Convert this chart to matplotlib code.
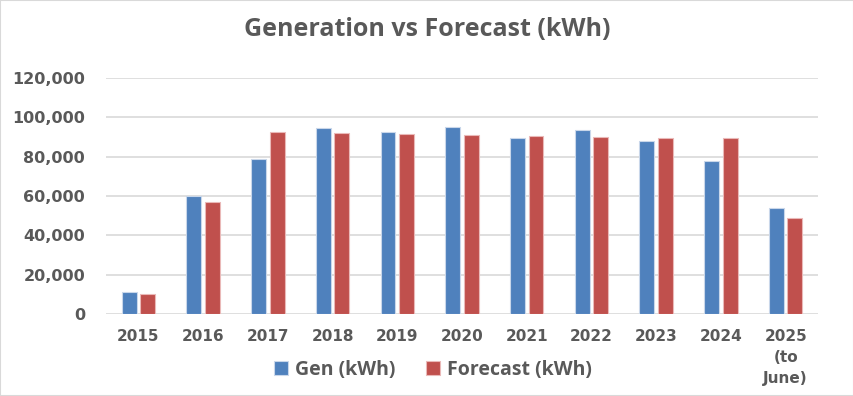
import matplotlib.pyplot as plt
import numpy as np
from matplotlib.patches import Rectangle

years = ["2015", "2016", "2017", "2018", "2019", "2020",
         "2021", "2022", "2023", "2024", "2025\n(to\nJune)"]
gen = [11000, 60000, 79000, 94500, 92600, 95300, 89700, 93500, 88200, 78000, 53900]
forecast = [10000, 56800, 92600, 92100, 91600, 91100, 90600, 90100, 89700, 89400, 48800]

blue = "#4F81BD"
red = "#C0504D"
grey_text = "#595959"

fig = plt.figure(figsize=(8.54, 3.96), dpi=100)
ax = fig.add_axes([106 / 854, 1 - 314 / 396, (818 - 106) / 854, (314 - 78) / 396])

x = np.arange(len(years))
w = 0.23
off = 0.143
ax.bar(x - off, gen, w, color=blue, edgecolor="#c9d7ea", linewidth=0.8,
       label="Gen (kWh)", zorder=3)
ax.bar(x + off, forecast, w, color=red, edgecolor="#eab9b8", linewidth=0.8,
       label="Forecast (kWh)", zorder=3)

ax.set_xlim(-0.5, len(years) - 0.5)
ax.set_ylim(0, 120000)
ax.set_yticks(np.arange(0, 120001, 20000))
ax.yaxis.set_major_formatter(plt.FuncFormatter(lambda v, p: f"{int(v):,}"))
ax.grid(axis="y", color="#d9d9d9", linewidth=1.2, zorder=0)
for s in ax.spines.values():
    s.set_visible(False)
ax.tick_params(length=0)
ax.tick_params(axis="y", pad=15, labelsize=11.5, labelcolor=grey_text)
ax.tick_params(axis="x", pad=11, labelsize=11, labelcolor=grey_text)
ax.set_xticks(x)
ax.set_xticklabels(years, linespacing=1.5, va="top")
for lab in ax.get_xticklabels() + ax.get_yticklabels():
    lab.set_fontweight("bold")

fig.text(0.5, 1 - 30 / 396, "Generation vs Forecast (kWh)", ha="center", va="center",
         fontsize=18, fontweight="bold", color=grey_text, family="Open Sans")

leg = fig.legend(loc="center", bbox_to_anchor=(433 / 854, 1 - 370 / 396), ncol=2,
                 frameon=False, handlelength=0.7, handleheight=0.7,
                 handletextpad=0.35, columnspacing=1.6,
                 prop={"family": "Open Sans", "size": 14, "weight": "bold"})
for t in leg.get_texts():
    t.set_color(grey_text)

fig.patches.append(Rectangle((0, 0), 1, 1, transform=fig.transFigure, fill=False,
                             edgecolor="#d9d9d9", linewidth=1.5))

fig.savefig("out.png", dpi=100)
